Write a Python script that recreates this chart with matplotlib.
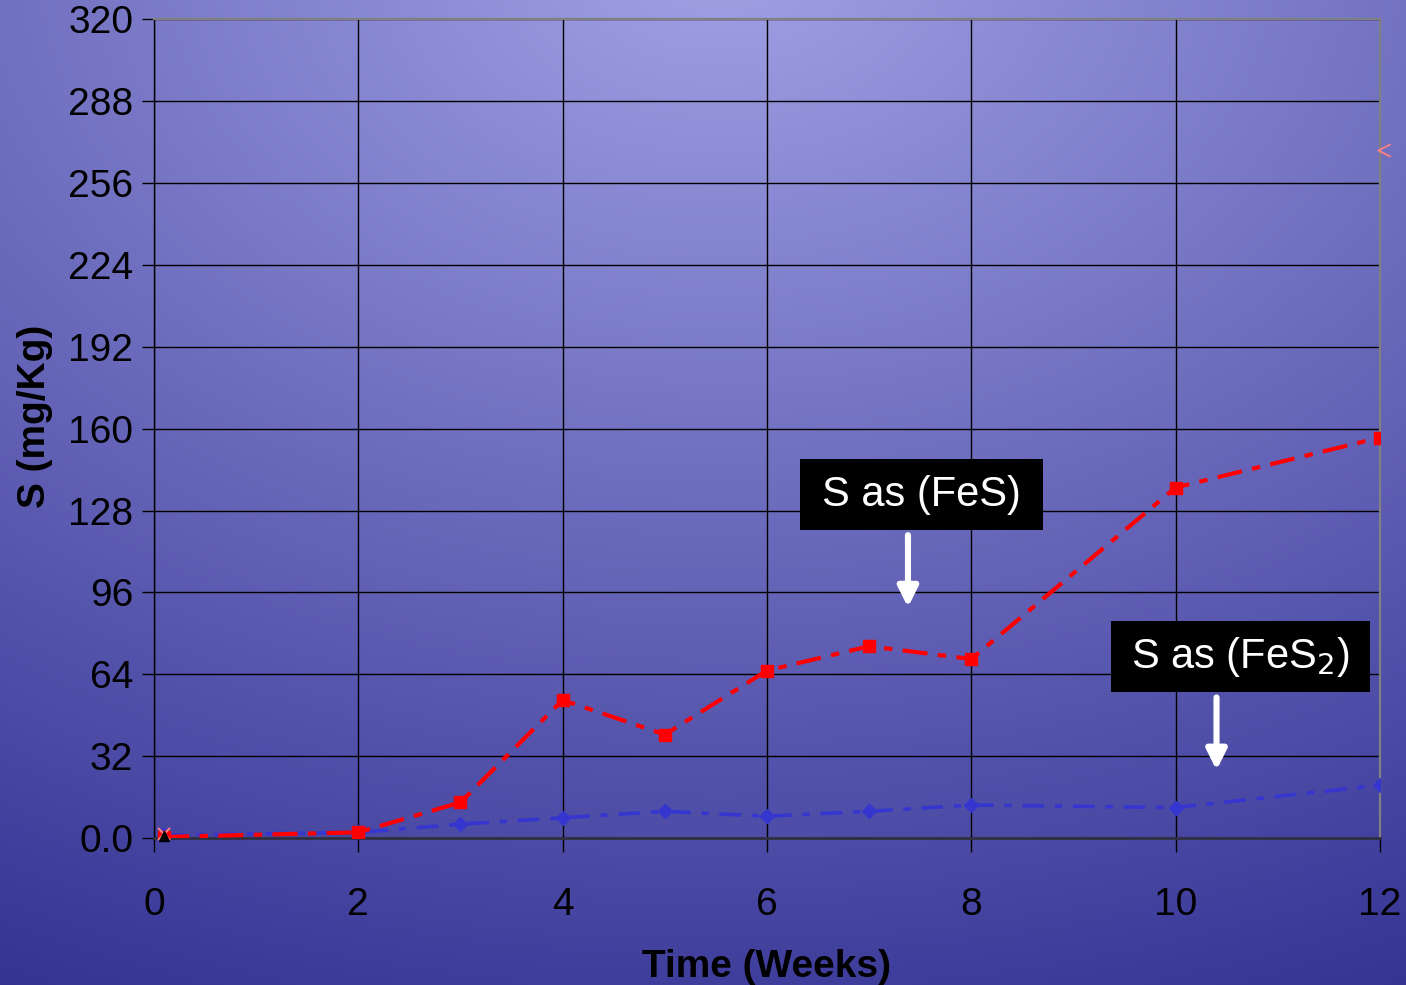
import numpy as np
import matplotlib
matplotlib.use('Agg')
import matplotlib.pyplot as plt
from matplotlib.path import Path
from matplotlib.patches import Rectangle

plt.rcParams['font.family'] = ['Liberation Sans', 'DejaVu Sans']

# sampling weeks and sulfur contents (mg/Kg)
weeks = [0.1, 2, 3, 4, 5, 6, 7, 8, 10, 12]
s_fes = [0.5, 2.3, 14, 54, 40.5, 65.5, 75, 70, 137, 156.5]
s_fes2 = [1.2, 2.3, 5.5, 8, 10.5, 8.6, 10.5, 13, 12, 20.7]

yticks = [0, 32, 64, 96, 128, 160, 192, 224, 256, 288, 320]
ytick_labels = ['0.0'] + [str(v) for v in yticks[1:]]
xticks = [0, 2, 4, 6, 8, 10, 12]

fig = plt.figure(figsize=(14.06, 9.85), dpi=100)

# radial background shading, light at top centre, dark toward the corners
bg = fig.add_axes([0, 0, 1, 1], zorder=-10)
h, w = 985, 1406
yy, xx = np.mgrid[0:h, 0:w]
t = np.sqrt(((xx - 720) / 1800.0) ** 2 + ((yy + 40) / 1250.0) ** 2)
t = np.clip(t, 0, 1)[..., None]
c0 = np.array([160, 161, 228]) / 255.0
c1 = np.array([42, 40, 140]) / 255.0
img = c0 * (1 - t) + c1 * t
bg.imshow(img, aspect='auto', extent=[0, 1, 0, 1])
bg.axis('off')

ax = fig.add_axes([0.1095, 0.149, 0.872, 0.8317])
ax.patch.set_alpha(0)

ax.plot(weeks, s_fes, color='red', lw=3, linestyle=(0, (6, 2.5, 2, 2.5)),
        marker='s', markersize=8, markeredgecolor='red', zorder=4)
ax.plot(weeks, s_fes2, color='#3535d0', lw=2.6, linestyle=(0, (6, 3, 2, 3)),
        marker='D', markersize=7, markeredgecolor='#3535d0', zorder=3)

# leftover series markers
chevron = Path([(1, 1), (-1, 0), (1, -1)],
               [Path.MOVETO, Path.LINETO, Path.LINETO])
ax.plot([0.1], [1.5], marker='x', color='#ff8080', markersize=9, mew=1.5,
        ls='none', clip_on=False, zorder=5)
ax.plot([0.1], [0.8], marker='^', color='black', markersize=7,
        ls='none', clip_on=False, zorder=5)
ax.plot([12.04], [269], marker=chevron, color='#ff8080', markersize=9,
        mfc='none', mew=1.3, ls='none', clip_on=False, zorder=5)

ax.set_xlim(0, 12)
ax.set_ylim(0, 320)
ax.set_xticks(xticks)
ax.set_yticks(yticks)
ax.set_yticklabels(ytick_labels)
ax.grid(True, color='black', lw=1.0)
ax.tick_params(axis='y', direction='out', length=9, width=1.0, pad=6,
               labelsize=28, colors='black')
ax.tick_params(axis='x', direction='out', length=10, width=1.0, pad=25,
               labelsize=28, colors='black')

ax.spines['left'].set_color('black')
ax.spines['left'].set_linewidth(1.0)
ax.spines['bottom'].set_color('#303040')
ax.spines['bottom'].set_linewidth(2.0)
for side in ('top', 'right'):
    ax.spines[side].set_color('#808080')
    ax.spines[side].set_linewidth(1.6)

fig.text(0.5455, 0.018, 'Time (Weeks)', ha='center', va='center',
         fontsize=28, fontweight='bold')
fig.text(0.025, 0.577, 'S (mg/Kg)', ha='center', va='center',
         rotation=90, fontsize=28, fontweight='bold')

# callout boxes with arrows
callouts = [((6.32, 120.3), 2.38, 27.7, 'S as (FeS)'),
            ((9.37, 57.0), 2.53, 27.8, 'S as (FeS$_2$)')]
for (x0, y0), bw, bh, label in callouts:
    ax.add_patch(Rectangle((x0, y0), bw, bh, facecolor='black',
                           edgecolor='none', zorder=6))
    ax.text(x0 + bw / 2, y0 + bh / 2, label, color='white', fontsize=30,
            ha='center', va='center', zorder=7)

arrow = dict(arrowstyle='-|>,head_width=0.6,head_length=1.2', color='white',
             lw=4.4, shrinkA=0, shrinkB=0)
ax.annotate('', xy=(7.38, 90.2), xytext=(7.38, 118.4), arrowprops=arrow, zorder=6)
ax.annotate('', xy=(10.40, 26.6), xytext=(10.40, 55), arrowprops=arrow, zorder=6)

fig.savefig('out.png', dpi=100)
